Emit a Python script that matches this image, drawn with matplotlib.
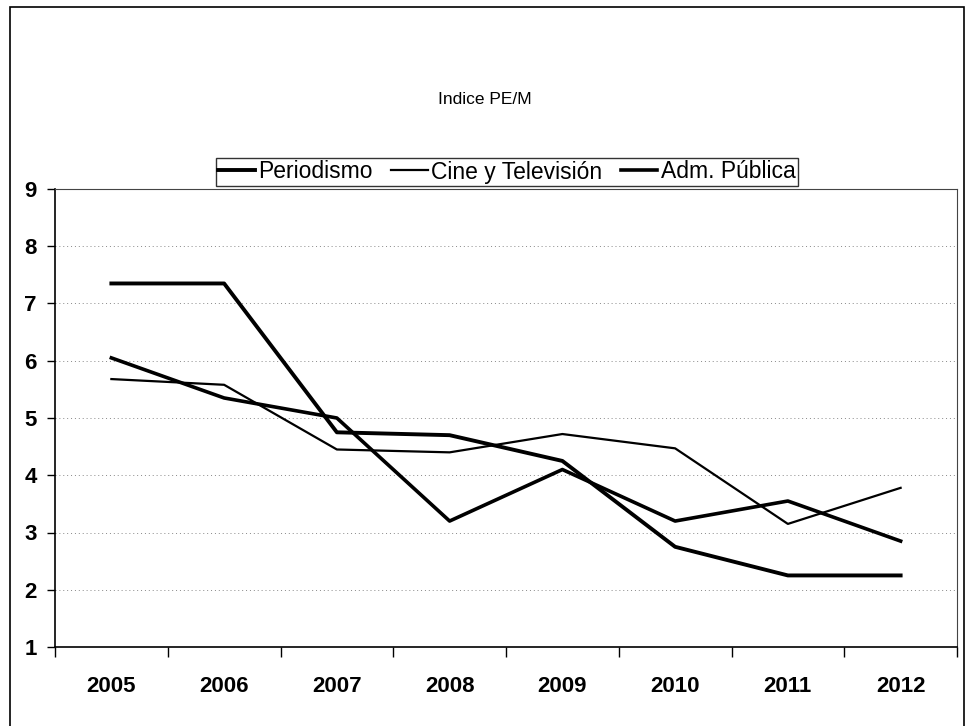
import matplotlib
matplotlib.use("Agg")
import matplotlib.pyplot as plt
from matplotlib.patches import Rectangle
from matplotlib.ticker import FixedLocator, NullFormatter

years = ["2005", "2006", "2007", "2008", "2009", "2010", "2011", "2012"]
periodismo = [7.35, 7.35, 4.75, 4.70, 4.25, 2.75, 2.25, 2.25]
cine_tv = [5.68, 5.58, 4.45, 4.40, 4.72, 4.47, 3.15, 3.78]
adm_publica = [6.05, 5.35, 5.00, 3.20, 4.10, 3.20, 3.55, 2.85]
y_ticks = [1, 2, 3, 4, 5, 6, 7, 8, 9]

plt.rcParams['font.family'] = ['Liberation Sans', 'DejaVu Sans']

fig = plt.figure(figsize=(9.67, 7.26), dpi=100)
W, H = 967, 726
ax = fig.add_axes([55 / W, 1 - 647 / H, (957 - 55) / W, (647 - 189) / H])

# outer frame of the chart
fig.patches.append(Rectangle((10 / W, -0.01), (964 - 10) / W, 1 - 7 / H + 0.01,
                             transform=fig.transFigure, fill=False,
                             edgecolor='black', linewidth=1.2))

x = list(range(len(years)))
l1, = ax.plot(x, periodismo, color='black', lw=2.8, label='Periodismo')
l2, = ax.plot(x, cine_tv, color='black', lw=1.6, label='Cine y Televisión')
l3, = ax.plot(x, adm_publica, color='black', lw=2.6, label='Adm. Pública')

ax.set_xlim(-0.5, len(years) - 0.5)
ax.set_ylim(1, 9)
ax.set_yticks(y_ticks)
ax.set_yticklabels([str(v) for v in y_ticks], fontsize=16, fontweight='bold')
ax.set_xticks(x)
ax.set_xticklabels(years, fontsize=16, fontweight='bold')
ax.tick_params(axis='x', which='major', length=0, pad=21)
ax.xaxis.set_minor_locator(FixedLocator([i - 0.5 for i in range(len(years) + 1)]))
ax.xaxis.set_minor_formatter(NullFormatter())
ax.tick_params(axis='x', which='minor', length=7, width=1, direction='out')
ax.tick_params(axis='y', length=6, width=1, direction='out', pad=7)

ax.grid(axis='y', color='#888888', linestyle=(0, (1, 3)), linewidth=0.7)
for s in ['top', 'right']:
    ax.spines[s].set_color('#444444')
    ax.spines[s].set_linewidth(0.8)
for s in ['left', 'bottom']:
    ax.spines[s].set_linewidth(1.2)

fig.text(485 / W, 1 - 100 / H, 'Indice PE/M', ha='center', va='center', fontsize=12.5)

leg = fig.legend(handles=[l1, l2, l3], loc='center', bbox_to_anchor=(507 / W, 1 - 172 / H),
                 ncol=3, frameon=True, fontsize=16.5, handlelength=1.6, handletextpad=0.15,
                 columnspacing=0.8, borderpad=0.12, fancybox=False, edgecolor='black')
leg.get_frame().set_linewidth(1.0)

fig.savefig('out.png', dpi=100, facecolor='white')
